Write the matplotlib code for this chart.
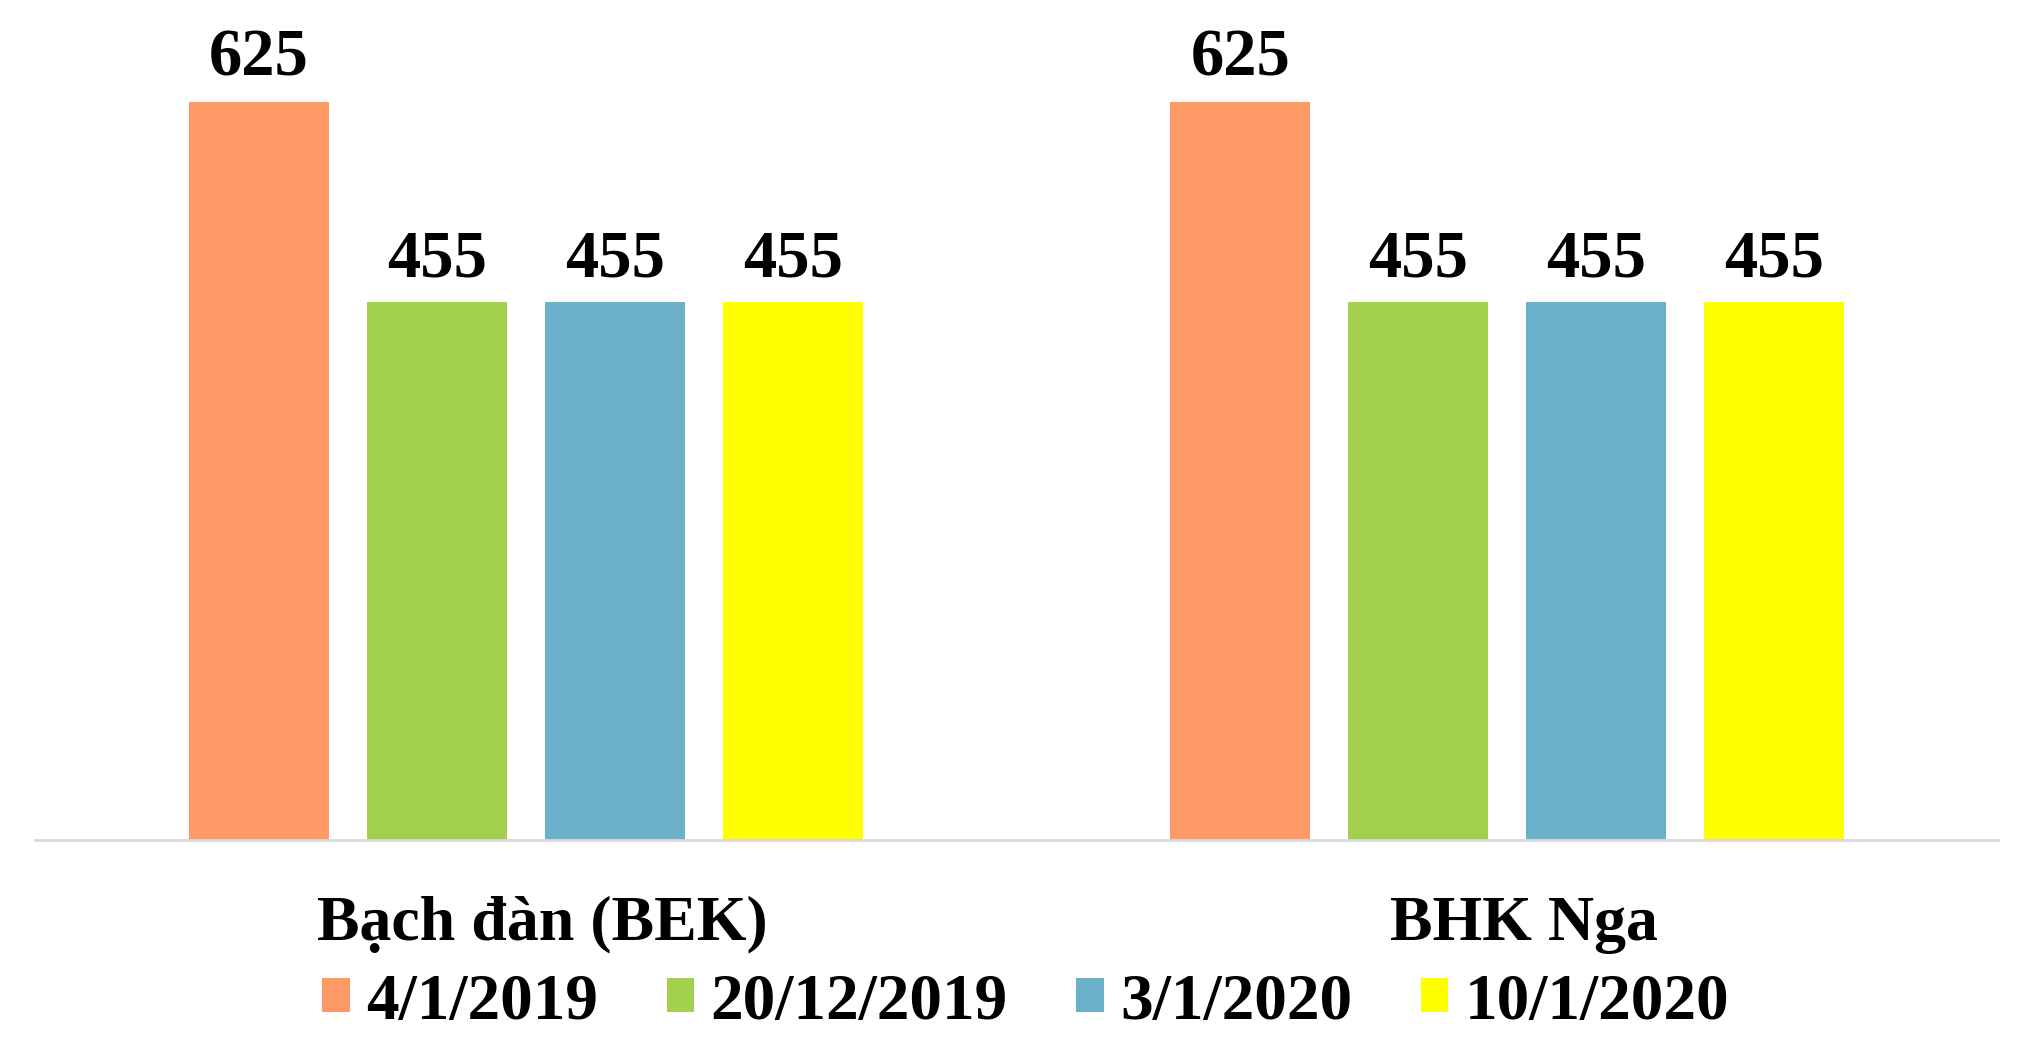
import numpy as np
import matplotlib
matplotlib.use("Agg")
import matplotlib.pyplot as plt

categories = ["Bạch đàn (BEK)", "BHK Nga"]
series_names = ["4/1/2019", "20/12/2019", "3/1/2020", "10/1/2020"]
values = [
    [625, 625],
    [455, 455],
    [455, 455],
    [455, 455],
]
colors = ["#FF9966", "#A3CF4E", "#6CB1CA", "#FFFF00"]

plt.rcParams["font.family"] = ["Liberation Serif", "DejaVu Serif"]
plt.rcParams["font.weight"] = "bold"

fig = plt.figure(figsize=(20.19, 10.40), dpi=100)
ax = fig.add_axes([0.0173, 0.1923, 0.9723, 0.8077])

x = np.arange(len(categories))
width = 0.1426
step = 0.1813
for i, name in enumerate(series_names):
    pos = x + (i - 1.5) * step
    bars = ax.bar(pos, values[i], width, color=colors[i], label=name)
    for b, v in zip(bars, values[i]):
        ax.text(b.get_x() + b.get_width() / 2, v + 10, str(v),
                ha="center", va="bottom", fontsize=48, fontweight="bold")

ax.set_xlim(-0.5, 1.5)
ax.set_ylim(0, 711)
ax.set_xticks(x + 0.017)
ax.set_xticklabels(categories, fontsize=46, fontweight="bold")
ax.tick_params(axis="x", length=0, pad=40)
ax.set_yticks([])
for s in ["top", "right", "left"]:
    ax.spines[s].set_visible(False)
ax.spines["bottom"].set_color("#D9D9D9")
ax.spines["bottom"].set_linewidth(2)

fig.legend(loc="lower center", bbox_to_anchor=(0.508, -0.018), ncol=4,
           frameon=False, fontsize=47, handlelength=0.42, handleheight=0.42,
           handletextpad=0.25, columnspacing=1.05, borderaxespad=0.0)

fig.savefig("out.png", dpi=100)
